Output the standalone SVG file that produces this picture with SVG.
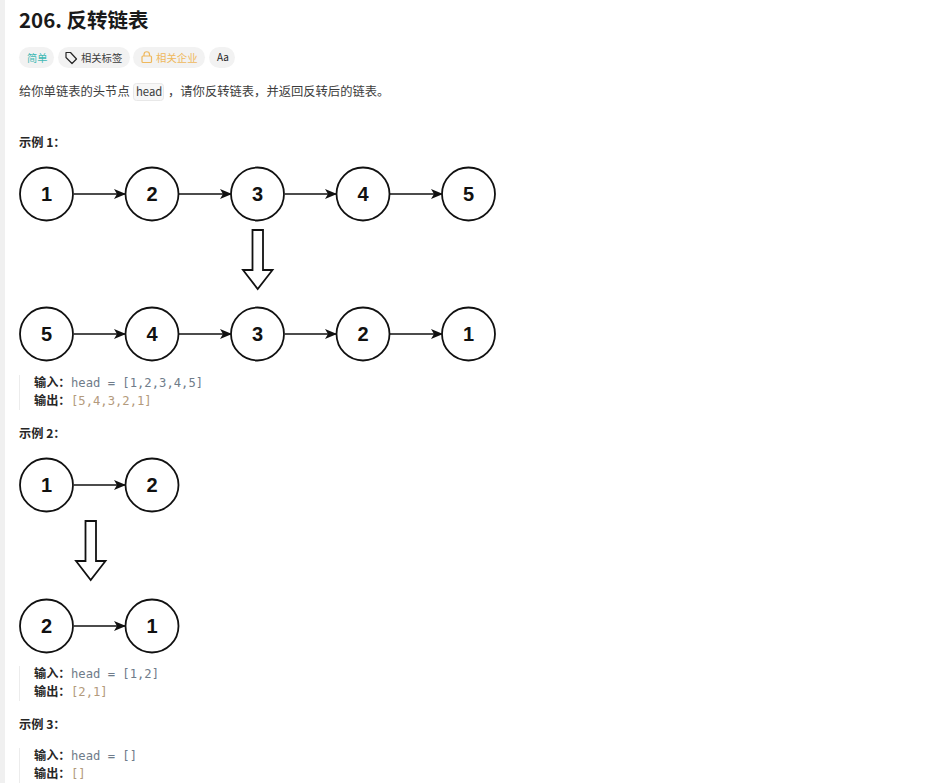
<svg xmlns="http://www.w3.org/2000/svg" width="952" height="783" viewBox="0 0 952 783">
<style>
text{font-family:"Noto Sans CJK SC","Noto Sans",sans-serif}
.n circle{fill:#fff;stroke:#111;stroke-width:1.8}
.n text{font-family:"Liberation Sans",Arial,sans-serif;font-size:20px;font-weight:700;fill:#111;text-anchor:middle}
.c line{stroke:#111;stroke-width:1.6;marker-end:url(#ah)}
.big{fill:#fff;stroke:#111;stroke-width:1.8}
.h{font-size:12.2px;font-weight:700;fill:#262626}
.k{font-size:12.2px;font-weight:700;fill:#262626}
.m{font-family:"DejaVu Sans Mono",monospace;font-size:12.2px;fill:#6f7c8a}
.o{font-family:"DejaVu Sans Mono",monospace;font-size:12.2px;fill:#b39a7c}
.t{font-size:12.3px;fill:#3c3c3c}
.b{fill:#ececec}
.p{fill:#f2f2f2}
</style>
<defs>
<marker id="ah" viewBox="0 0 12 10" refX="11" refY="5" markerWidth="12" markerHeight="10" markerUnits="userSpaceOnUse" orient="auto"><path d="M0 0L12 5L0 10L3 5Z" fill="#111"/></marker>
</defs>
<rect width="952" height="783" fill="#fff"/>
<rect x="0" y="0" width="5" height="783" fill="#f0f0f0"/>
<text x="19" y="28" font-size="20.500" font-weight="600" fill="#1a1a1a">206. 反转链表</text>
<rect class="p" x="19" y="47" width="35" height="21" rx="10.500"/>
<text x="27" y="61.500" font-size="10.200" fill="#3fb9b4">简单</text>
<rect class="p" x="58" y="47" width="72" height="21" rx="10.500"/>
<path d="M66 52.500V57.500L72 63.500L76.500 59L70.500 52.500Z" fill="none" stroke="#262626" stroke-width="1.200" stroke-linejoin="round"/>
<text x="81" y="61.500" font-size="10.300" fill="#3c3c3c">相关标签</text>
<rect class="p" x="133" y="47" width="72" height="21" rx="10.500"/>
<rect x="142" y="56" width="9.500" height="6.500" rx="1" fill="none" stroke="#efb85c" stroke-width="1.200"/>
<path d="M144 56V54.500A2.700 2.700 0 0 1 149.500 54.500V56" fill="none" stroke="#efb85c" stroke-width="1.200"/>
<text x="156" y="61.500" font-size="10.400" fill="#efb85c">相关企业</text>
<rect class="p" x="209" y="47" width="26" height="21" rx="10.500"/>
<text x="217" y="61" font-size="10" font-family="Liberation Sans,sans-serif" fill="#262626">Aa</text>
<text class="t" x="19" y="96">给你单链表的头节点</text>
<rect x="133.500" y="83.500" width="30" height="17" rx="3" fill="#f7f7f7" stroke="#e8e8e8"/>
<text x="136" y="96" font-size="11.300" font-family="Noto Sans,sans-serif" fill="#3c3c3c">head</text>
<text class="t" x="168" y="96">，请你反转链表，并返回反转后的链表。</text>
<text class="h" x="19" y="147">示例 1：</text>
<g id="connectors" class="c">
<line x1="74" y1="194" x2="125" y2="194"/><line x1="179" y1="194" x2="231" y2="194"/><line x1="285" y1="194" x2="336" y2="194"/><line x1="390" y1="194" x2="442" y2="194"/>
<line x1="74" y1="334" x2="125" y2="334"/><line x1="179" y1="334" x2="231" y2="334"/><line x1="285" y1="334" x2="336" y2="334"/><line x1="390" y1="334" x2="442" y2="334"/>
<line x1="74" y1="485" x2="125" y2="485"/><line x1="74" y1="626" x2="125" y2="626"/>
</g>
<g id="n1a" class="n"><circle cx="46.500" cy="194" r="26.500"/><text x="46.500" y="201">1</text></g>
<g id="n2a" class="n"><circle cx="152" cy="194" r="26.500"/><text x="152" y="201">2</text></g>
<g id="n3a" class="n"><circle cx="257.500" cy="194" r="26.500"/><text x="257.500" y="201">3</text></g>
<g id="n4a" class="n"><circle cx="363" cy="194" r="26.500"/><text x="363" y="201">4</text></g>
<g id="n5a" class="n"><circle cx="468.500" cy="194" r="26.500"/><text x="468.500" y="201">5</text></g>
<path id="bigarrow1" class="big" d="M252.500 230H263V270H272.500L257.700 289L243 270H252.500Z"/>
<g id="n5b" class="n"><circle cx="46.500" cy="334" r="26.500"/><text x="46.500" y="341">5</text></g>
<g id="n4b" class="n"><circle cx="152" cy="334" r="26.500"/><text x="152" y="341">4</text></g>
<g id="n3b" class="n"><circle cx="257.500" cy="334" r="26.500"/><text x="257.500" y="341">3</text></g>
<g id="n2b" class="n"><circle cx="363" cy="334" r="26.500"/><text x="363" y="341">2</text></g>
<g id="n1b" class="n"><circle cx="468.500" cy="334" r="26.500"/><text x="468.500" y="341">1</text></g>
<rect class="b" x="19" y="375" width="1" height="35"/>
<text class="k" x="34" y="387">输入：</text><text class="m" x="71" y="387">head = [1,2,3,4,5]</text>
<text class="k" x="34" y="405">输出：</text><text class="o" x="71" y="405">[5,4,3,2,1]</text>
<text class="h" x="19" y="438">示例 2：</text>
<g id="n1c" class="n"><circle cx="46.500" cy="485" r="26.500"/><text x="46.500" y="492">1</text></g>
<g id="n2c" class="n"><circle cx="152" cy="485" r="26.500"/><text x="152" y="492">2</text></g>
<path id="bigarrow2" class="big" d="M85.500 521H96V561H105.500L90.700 580L76 561H85.500Z"/>
<g id="n2d" class="n"><circle cx="46.500" cy="626" r="26.500"/><text x="46.500" y="633">2</text></g>
<g id="n1d" class="n"><circle cx="152" cy="626" r="26.500"/><text x="152" y="633">1</text></g>
<rect class="b" x="19" y="666" width="1" height="35"/>
<text class="k" x="34" y="678">输入：</text><text class="m" x="71" y="678">head = [1,2]</text>
<text class="k" x="34" y="696">输出：</text><text class="o" x="71" y="696">[2,1]</text>
<text class="h" x="19" y="729">示例 3：</text>
<rect class="b" x="19" y="748" width="1" height="35"/>
<text class="k" x="34" y="760">输入：</text><text class="m" x="71" y="760">head = []</text>
<text class="k" x="34" y="778">输出：</text><text class="o" x="71" y="778">[]</text>
</svg>
